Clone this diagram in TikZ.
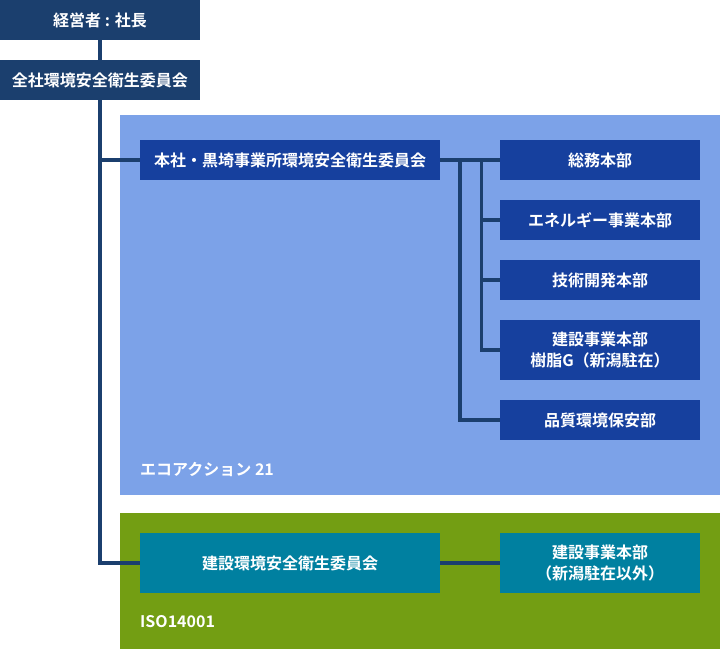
\documentclass[tikz,border=0pt]{standalone}
\usepackage{fontspec}
\setmainfont{Noto Sans CJK JP}[BoldFont={* Bold}]
\definecolor{navy}{RGB}{27,63,110}
\definecolor{deptblue}{RGB}{22,64,158}
\definecolor{ecoblue}{RGB}{124,162,232}
\definecolor{isogreen}{RGB}{115,158,19}
\definecolor{teal}{RGB}{0,128,160}
\begin{document}
\begin{tikzpicture}[
  x=1pt, y=-1pt,
  every node/.style={font=\fontsize{16}{21}\selectfont\bfseries, text=white, align=center, inner sep=0pt},
  topbox/.style={fill=navy, minimum width=200pt, minimum height=40pt},
  mainbox/.style={fill=deptblue, minimum width=300pt, minimum height=40pt},
  deptbox/.style={fill=deptblue, minimum width=200pt, minimum height=40pt},
  isobox/.style={fill=teal, minimum height=60pt},
  tag/.style={anchor=west},
  link/.style={draw=navy, line width=3.5pt}
]
\useasboundingbox (0,0) rectangle (720,649);
% certification areas
\fill[ecoblue] (120,115) rectangle (720,495);
\fill[isogreen] (120,513) rectangle (720,649);
\node[tag] (ecotag) at (140,469) {エコアクション 21};
\node[tag] (isotag) at (140,622) {ISO14001};

\node[topbox] (ceo) at (100,20) {経営者 : 社長};
\node[topbox] (zensha) at (100,80) {全社環境安全衛生委員会};
\node[mainbox] (honsha) at (290,160) {本社・黒埼事業所環境安全衛生委員会};
\node[deptbox] (soumu) at (600,160) {総務本部};
\node[deptbox] (energy) at (600,220) {エネルギー事業本部};
\node[deptbox] (gijutsu) at (600,280) {技術開発本部};
\node[deptbox, minimum height=60pt] (jushi) at (600,350) {建設事業本部\\樹脂G（新潟駐在）};
\node[deptbox] (hinshitsu) at (600,420) {品質環境保安部};
\node[isobox, minimum width=300pt] (kenkan) at (290,563) {建設環境安全衛生委員会};
\node[isobox, minimum width=200pt] (kenjigyo) at (600,563) {建設事業本部\\（新潟駐在以外）};

\coordinate (jq) at (460,160);
\coordinate (jd) at (481.5,160);

\draw[link] (ceo) -- (zensha);
\draw[link] (zensha.south) |- (honsha.west);
\draw[link] (zensha.south) |- (kenkan.west);
\draw[link] (honsha) -- (soumu);
\draw[link] (jd) |- (energy.west);
\draw[link] (jd) |- (gijutsu.west);
\draw[link] (jd) |- (jushi.west);
\draw[link] (jq) |- (hinshitsu.west);
\draw[link] (kenkan) -- (kenjigyo);
\end{tikzpicture}
\end{document}
